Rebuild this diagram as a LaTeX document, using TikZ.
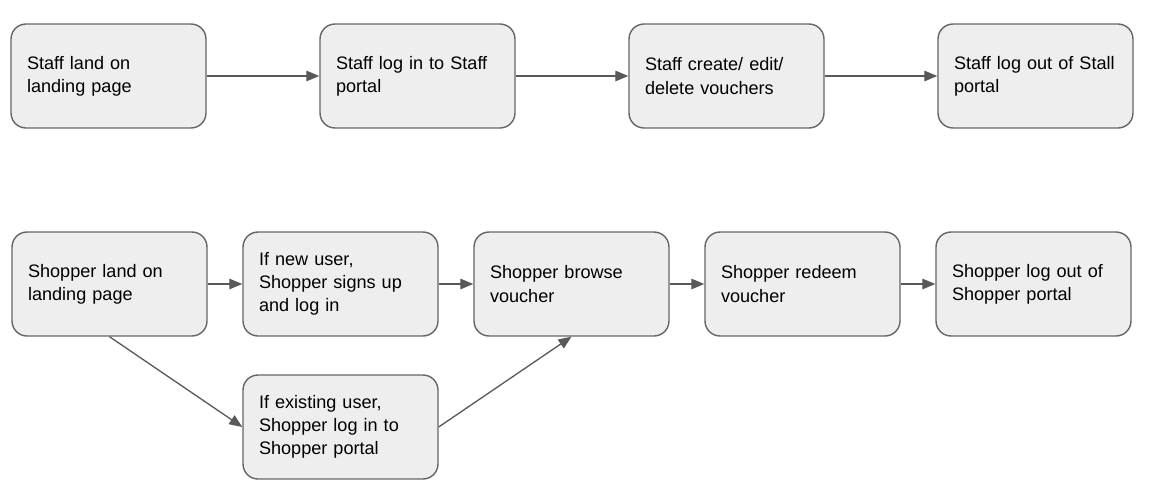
\documentclass[tikz,border=0pt]{standalone}
\usepackage{fontspec}
\setmainfont{Liberation Sans}
\usetikzlibrary{arrows.meta}
\definecolor{boxfill}{HTML}{EEEEEE}
\definecolor{boxline}{HTML}{666666}
\definecolor{arrline}{HTML}{595959}

\begin{document}
\begin{tikzpicture}[
  x=0.02cm, y=-0.02cm,
  stepbox/.style={rectangle, rounded corners=0.3cm, draw=boxline, line width=0.8pt,
    fill=boxfill, minimum width=3.9cm, minimum height=2.08cm, inner xsep=0.32cm,
    text width=3.26cm, align=left, font=\fontsize{10.3pt}{13.2pt}\selectfont},
  arr/.style={-{Triangle[length=2.6mm, width=2.1mm]}, line width=0.75pt, arrline}
]
\useasboundingbox (0,0) rectangle (1150,498);
% staff flow
\node[stepbox] (st1) at (108.5,76)  {Staff land on\\landing page};
\node[stepbox] (st2) at (417.5,76)  {Staff log in to Staff\\portal};
\node[stepbox] (st3) at (726.5,76)  {Staff create/ edit/\\delete vouchers};
\node[stepbox] (st4) at (1035.5,76) {Staff log out of Stall\\portal};
\draw[arr] (st1) -- (st2);
\draw[arr] (st2) -- (st3);
\draw[arr] (st3) -- (st4);
% shopper flow
\node[stepbox] (sh1) at (109.5,284)  {Shopper land on\\landing page};
\node[stepbox] (new) at (340.5,284)  {If new user,\\Shopper signs up\\and log in};
\node[stepbox] (sh2) at (571.5,284)  {Shopper browse\\voucher};
\node[stepbox] (sh3) at (802.5,284)  {Shopper redeem\\voucher};
\node[stepbox] (sh4) at (1033.5,284) {Shopper log out of\\Shopper portal};
\node[stepbox] (old) at (340.5,427)  {If existing user,\\Shopper log in to\\Shopper portal};
\draw[arr] (sh1) -- (new);
\draw[arr] (new) -- (sh2);
\draw[arr] (sh2) -- (sh3);
\draw[arr] (sh3) -- (sh4);
\draw[arr] (sh1.south) -- (old.west);
\draw[arr] (old.east) -- (sh2.south);
\end{tikzpicture}
\end{document}
